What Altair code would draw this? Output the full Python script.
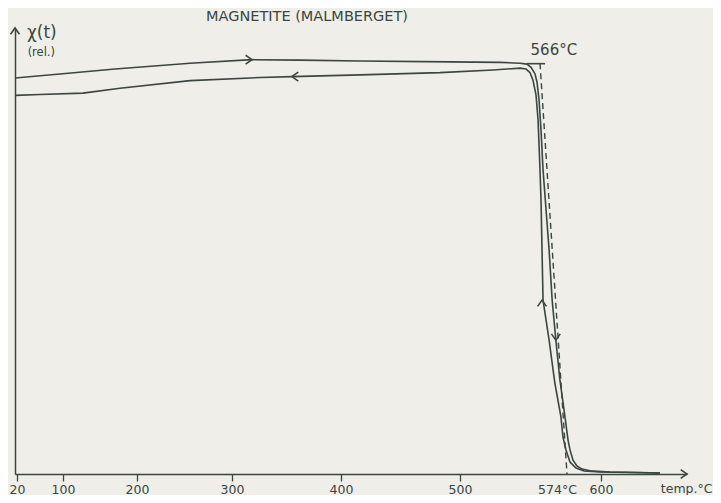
import altair as alt
import pandas as pd

# ---- data (temperature in °C, susceptibility in relative units) ----
heat_temp = [16.5, 94.8, 170.3, 255.8, 318.3, 362.4, 416.0, 491.6, 533.0, 549.5,
             555.3, 558.6, 561.9, 563.5, 565.2, 566.3, 566.9, 567.8, 568.7, 569.6,
             570.7, 571.9, 573.4, 574.8, 576.3, 578.6, 581.6, 585.5, 591.6, 606.4,
             627.7, 641.8]
heat_chi = [88.8, 89.7, 90.8, 92.1, 92.9, 92.8, 92.6, 92.4, 92.3, 92.1,
            91.9, 91.2, 89.7, 87.9, 83.9, 77.1, 68.2, 59.2, 50.2, 39.0,
            30.0, 21.1, 12.8, 7.6, 5.4, 3.1, 1.8, 1.1, 0.7, 0.45,
            0.34, 0.22]

cool_temp = [641.8, 620.6, 599.2, 587.0, 580.9, 576.3, 573.7, 572.8, 572.2, 570.4,
             568.7, 566.9, 566.6, 566.3, 566.0, 564.4, 562.7, 560.2, 557.8, 554.5,
             549.5, 527.2, 483.2, 416.0, 355.0, 325.7, 255.8, 177.0, 127.0, 60.0,
             16.5]
cool_chi = [0.22, 0.34, 0.45, 0.67, 1.35, 2.7, 5.4, 8.3, 12.8, 20.4,
            30.0, 39.0, 50.2, 61.4, 68.2, 79.4, 85.0, 88.3, 90.0, 90.8,
            91.0, 90.6, 90.0, 89.5, 89.1, 88.9, 88.2, 86.5, 85.4, 85.1,
            84.9]

# Curie-point construction
dash_temp = [566, 574]
dash_chi = [92.1, 0]
mark566_temp = [555.3, 567.5]
mark566_chi = [92.0, 92.0]

# direction arrows on the curves and axis arrowheads
arrow_temp = [318.3, 355.0, 566.6, 570.7, 16.5, 661.0]
arrow_chi = [92.9, 89.1, 39.0, 30.0, 100.0, 0.0]
arrow_angle = [0, 180, 270, 90, 270, 0]

# axis tick values
tick_values = [20, 100, 200, 300, 400, 500, 574, 600]

# the hand-drawn temperature axis is not linear: piecewise scale read from the tick marks
scale_domain = [16.5, 20, 100, 200, 300, 400, 500, 566, 574, 600, 661]
scale_range = [0, 2, 48, 122, 217, 326, 445, 525, 552, 586, 672]

# annotation texts
center_text = ["MAGNETITE (MALMBERGET)", "566°C"]
center_temp = [368.8, 570.1]
center_chi = [102.5, 95.1]
center_size = [14.5, 15]
left_text = ["χ(t)", "(rel.)"]
left_temp = [37.4, 38.5]
left_chi = [98.9, 94.3]
left_size = [17, 11.5]

INK = "#3b4641"
BG = "#efeee8"
FONT = "DejaVu Sans"

curves = pd.DataFrame({
    "temp": heat_temp + cool_temp,
    "chi": heat_chi + cool_chi,
    "run": ["heating"] * len(heat_temp) + ["cooling"] * len(cool_temp),
    "order": list(range(len(heat_temp))) + list(range(len(cool_temp))),
})
dash_df = pd.DataFrame({"temp": dash_temp, "chi": dash_chi})
m566_df = pd.DataFrame({"temp": mark566_temp, "chi": mark566_chi})
arrow_df = pd.DataFrame({"temp": arrow_temp, "chi": arrow_chi, "ang": arrow_angle})
ctext_df = pd.DataFrame({"temp": center_temp, "chi": center_chi, "text": center_text, "size": center_size})
ltext_df = pd.DataFrame({"temp": left_temp, "chi": left_chi, "text": left_text, "size": left_size})

xscale = alt.Scale(domain=scale_domain, range=scale_range, zero=False, nice=False)
yscale = alt.Scale(domain=[0, 100], zero=False, nice=False)

x_axis = alt.Axis(
    values=tick_values,
    format="d",
    labelExpr="datum.value == 574 ? '574°C' : datum.label",
    labelOffset={"condition": {"test": "datum.value == 574", "value": -10}, "value": 0},
    tickColor={"condition": {"test": "datum.value == 574", "value": "transparent"}, "value": INK},
    tickSize=7, tickWidth=1.3,
    domainColor=INK, domainWidth=1.5,
    labelColor=INK, labelFont=FONT, labelFontSize=12.5, labelPadding=2,
    grid=False,
    title="temp.°C", titleFont=FONT, titleFontSize=12.5, titleFontWeight="normal",
    titleColor=INK, titleX=697, titleY=14, titleAlign="right", titleBaseline="middle",
    titleAnchor="end",
)
y_axis = alt.Axis(labels=False, ticks=False, grid=False, title=None,
                  domainColor=INK, domainWidth=1.5)

X = alt.X("temp:Q", scale=xscale, axis=x_axis)
Y = alt.Y("chi:Q", scale=yscale, axis=y_axis)

lines = alt.Chart(curves).mark_line(color=INK, strokeWidth=1.6).encode(
    x=X, y=Y, detail="run:N", order="order:Q"
)
dashed = alt.Chart(dash_df).mark_line(color=INK, strokeWidth=1.4, strokeDash=[6, 4]).encode(
    x="temp:Q", y="chi:Q"
)
m566 = alt.Chart(m566_df).mark_line(color=INK, strokeWidth=1.6).encode(
    x="temp:Q", y="chi:Q"
)
arrows = alt.Chart(arrow_df).mark_point(
    shape="M -1 -0.7 L 0 0 L -1 0.7", filled=False, stroke=INK, strokeWidth=1.6,
    opacity=1, size=160,
).encode(x="temp:Q", y="chi:Q", angle=alt.Angle("ang:Q", scale=None))

ctexts = alt.Chart(ctext_df).mark_text(font=FONT, color=INK, baseline="middle", align="center").encode(
    x="temp:Q", y="chi:Q", text="text:N", size=alt.Size("size:Q", scale=None),
)
ltexts = alt.Chart(ltext_df).mark_text(font=FONT, color=INK, baseline="middle", align="left").encode(
    x="temp:Q", y="chi:Q", text="text:N", size=alt.Size("size:Q", scale=None),
)

chart = alt.layer(lines, dashed, m566, arrows, ctexts, ltexts).properties(
    width=672, height=446,
    autosize=alt.AutoSizeParams(type="none"),
    padding={"left": 7, "top": 20, "right": 26, "bottom": 21},
    background=BG,
).configure_view(stroke=None)

chart.save("out.html", embed_options={"renderer": "svg", "actions": False})
